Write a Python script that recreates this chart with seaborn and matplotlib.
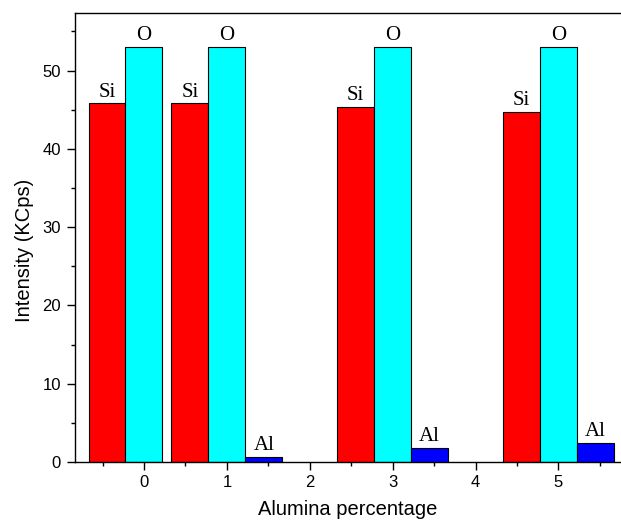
import numpy as np
import pandas as pd
import seaborn as sns
import matplotlib.pyplot as plt
from matplotlib.ticker import MultipleLocator

# values
alumina = [0, 1, 3, 5]
si = [45.8, 45.8, 45.3, 44.7]
o = [53.0, 53.0, 53.0, 53.0]
al = [None, 0.68, 1.78, 2.39]
elements = ['Si', 'O', 'Al']
colors = ['#ff0000', '#00ffff', '#0000ff']


def build_frame():

    rows = []
    for name, vals in zip(elements, [si, o, al]):
        for x, v in zip(alumina, vals):
            if v is not None:
                rows.append({'Alumina': x, 'Element': name, 'Intensity': v})
    return pd.DataFrame(rows)


def main():

    df = build_frame()

    sns.set_style('ticks')
    plt.rcParams['font.family'] = ['Liberation Sans', 'DejaVu Sans']
    plt.rcParams['text.color'] = 'black'
    plt.rcParams['axes.labelcolor'] = 'black'

    fig = plt.figure(figsize=(6.21, 5.25), dpi=100)
    ax = fig.add_axes([75 / 621, 63 / 525, 546 / 621, 449.3 / 525])

    sns.barplot(data=df, x='Alumina', y='Intensity', hue='Element',
        hue_order=elements, palette=colors, native_scale=True,
        width=1.338, gap=0, saturation=1, errorbar=None,
        edgecolor='black', linewidth=0.8, legend=False, ax=ax)

    for name, cont in zip(elements, ax.containers):
        for bar in cont:
            h = bar.get_height()
            if np.isnan(h):
                continue
            ax.annotate(name, (bar.get_x() + bar.get_width() / 2, h),
                xytext=(0, 5), textcoords='offset points',
                ha='center', va='baseline', fontsize=15, color='black',
                family='Liberation Serif')

    ax.set_xlim(-0.832, 5.754)
    ax.set_ylim(0, 57.4)
    ax.xaxis.set_major_locator(MultipleLocator(1))
    ax.xaxis.set_minor_locator(MultipleLocator(0.5))
    ax.yaxis.set_major_locator(MultipleLocator(10))
    ax.yaxis.set_minor_locator(MultipleLocator(5))
    ax.tick_params(which='major', length=6, width=1, labelsize=12,
        color='black', labelcolor='black')
    ax.tick_params(which='minor', length=3, width=1, color='black')
    ax.tick_params(axis='y', which='major', pad=4)

    for side in ['left', 'bottom', 'top']:
        ax.spines[side].set_color('black')
        ax.spines[side].set_linewidth(1)
    ax.spines['right'].set_visible(False)

    ax.set_xlabel('Alumina percentage', fontsize=14.5, labelpad=7)
    ax.set_ylabel('Intensity (KCps)', fontsize=14.5)
    ax.yaxis.set_label_coords(-0.076, 0.472)

    fig.savefig('out.png', dpi=100)
    plt.close()


if __name__ == '__main__':
    main()
